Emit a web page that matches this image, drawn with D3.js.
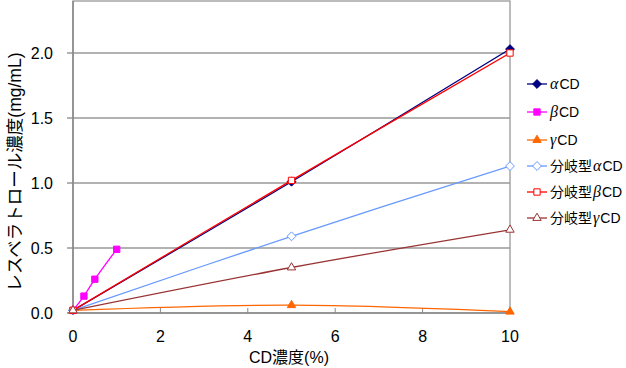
<!DOCTYPE html>
<html>
<head>
<meta charset="utf-8">
<script src="https://cdn.jsdelivr.net/npm/d3@7"></script>
<style>
  body { margin: 0; background: #fff; }
  text { font-family: "Liberation Sans", "Noto Sans CJK JP", sans-serif; fill: #000; }
</style>
</head>
<body>
<div id="chart"></div>
<script>
var width = 626, height = 368;
var margin = {left: 73, right: 116, top: 1, bottom: 55};

// data
var xA = [0, 5, 10];
var xBeta = [0, 0.25, 0.5, 1];
var alphaCD = [0.02, 1.01, 2.03];
var betaCD = [0.02, 0.13, 0.26, 0.49];
var gammaCD = [0.02, 0.06, 0.01];
var brAlphaCD = [0.02, 0.59, 1.13];
var brBetaCD = [0.02, 1.02, 2.00];
var brGammaCD = [0.02, 0.35, 0.64];

var xTicks = [0, 2, 4, 6, 8, 10];
var yTicks = [0, 0.5, 1.0, 1.5, 2.0];

var series = [
  {greek: "α", prefix: "", x: xA, y: alphaCD, color: "#000080", shape: "diamond", fill: true},
  {greek: "β", prefix: "", x: xBeta, y: betaCD, color: "#FF00FF", shape: "square", fill: true},
  {greek: "γ", prefix: "", x: xA, y: gammaCD, color: "#FF6600", shape: "triangle", fill: true},
  {greek: "α", prefix: "分岐型", x: xA, y: brAlphaCD, color: "#6699FF", shape: "diamond", fill: false},
  {greek: "β", prefix: "分岐型", x: xA, y: brBetaCD, color: "#FF0000", shape: "square", fill: false},
  {greek: "γ", prefix: "分岐型", x: xA, y: brGammaCD, color: "#993333", shape: "triangle", fill: false}
];

var svg = d3.select("#chart").append("svg")
  .attr("width", width).attr("height", height);

var x = d3.scaleLinear().domain([0, 10]).range([margin.left, width - margin.right]);
var y = d3.scaleLinear().domain([0, 2.4]).range([height - margin.bottom, margin.top]);

// grid
svg.append("g").selectAll("line").data(yTicks.filter(function(d){ return d > 0; }))
  .enter().append("line")
  .attr("x1", margin.left - 6).attr("x2", x(10))
  .attr("y1", function(d){ return y(d); }).attr("y2", function(d){ return y(d); })
  .attr("stroke", "#999").attr("stroke-width", 1.3);

// frame
svg.append("rect")
  .attr("x", x(0)).attr("y", y(2.4))
  .attr("width", x(10) - x(0)).attr("height", y(0) - y(2.4))
  .attr("fill", "none").attr("stroke", "#999").attr("stroke-width", 1.3);
svg.append("line").attr("x1", x(0)).attr("x2", x(0)).attr("y1", y(2.4)).attr("y2", y(0))
  .attr("stroke", "#888").attr("stroke-width", 1.5);
svg.append("line").attr("x1", x(0) - 6).attr("x2", x(10)).attr("y1", y(0)).attr("y2", y(0))
  .attr("stroke", "#888").attr("stroke-width", 1.5);

// x ticks (inside)
svg.append("g").selectAll("line").data(xTicks)
  .enter().append("line")
  .attr("x1", function(d){ return x(d); }).attr("x2", function(d){ return x(d); })
  .attr("y1", y(0)).attr("y2", y(0) - 5)
  .attr("stroke", "#888").attr("stroke-width", 1);

svg.append("g").selectAll("text").data(xTicks)
  .enter().append("text")
  .attr("x", function(d){ return x(d); }).attr("y", y(0) + 29)
  .attr("text-anchor", "middle").attr("font-size", 16)
  .text(function(d){ return d; });

svg.append("g").selectAll("text").data(yTicks)
  .enter().append("text")
  .attr("x", 53).attr("y", function(d){ return y(d) + 6; })
  .attr("text-anchor", "end").attr("font-size", 16)
  .text(function(d){ return d.toFixed(1); });

// axis titles
svg.append("text")
  .attr("x", 289).attr("y", 363)
  .attr("text-anchor", "middle").attr("font-size", 16)
  .text("CD濃度(%)");

svg.append("text")
  .attr("transform", "translate(21," + 172 + ") rotate(-90)")
  .attr("text-anchor", "middle").attr("font-size", 17.5)
  .attr("font-family", "Noto Sans CJK JP")
  .text("レスベラトロール濃度(mg/mL)");

var sym = {
  diamond: d3.symbol().type(d3.symbolDiamond2).size(50),
  square: d3.symbol().type(d3.symbolSquare).size(40),
  triangle: d3.symbol().type(d3.symbolTriangle2).size(50)
};

var line = d3.line()
  .x(function(d){ return x(d[0]); })
  .y(function(d){ return y(d[1]); })
  .curve(d3.curveCatmullRom);

series.forEach(function(s) {
  var pts = s.x.map(function(v, i){ return [v, s.y[i]]; });
  svg.append("path").datum(pts)
    .attr("d", line).attr("fill", "none")
    .attr("stroke", s.color).attr("stroke-width", 1.3);
  svg.append("g").selectAll("path").data(pts)
    .enter().append("path")
    .attr("d", sym[s.shape]())
    .attr("transform", function(d){ return "translate(" + x(d[0]) + "," + y(d[1]) + ")"; })
    .attr("fill", s.fill ? s.color : "#fff")
    .attr("stroke", s.color).attr("stroke-width", 1);
});

// legend
var legY = [84, 112, 140, 166, 192, 218];
series.forEach(function(s, i) {
  var g = svg.append("g").attr("transform", "translate(527," + legY[i] + ")");
  g.append("line").attr("x1", 0).attr("x2", 20).attr("stroke", s.color).attr("stroke-width", 1.3);
  g.append("path").attr("d", sym[s.shape]()).attr("transform", "translate(10,0)")
    .attr("fill", s.fill ? s.color : "#fff").attr("stroke", s.color);
  var t = g.append("text").attr("x", 23).attr("y", 5).attr("font-size", 14);
  if (s.prefix) t.append("tspan").attr("font-family", "Noto Sans CJK JP").text(s.prefix);
  t.append("tspan").attr("font-style", "italic").attr("font-family", "Liberation Serif")
    .attr("font-size", 16).attr("dx", s.prefix ? 1 : 0).text(s.greek);
  t.append("tspan").attr("dx", 1).text("CD");
});
</script>
</body>
</html>
